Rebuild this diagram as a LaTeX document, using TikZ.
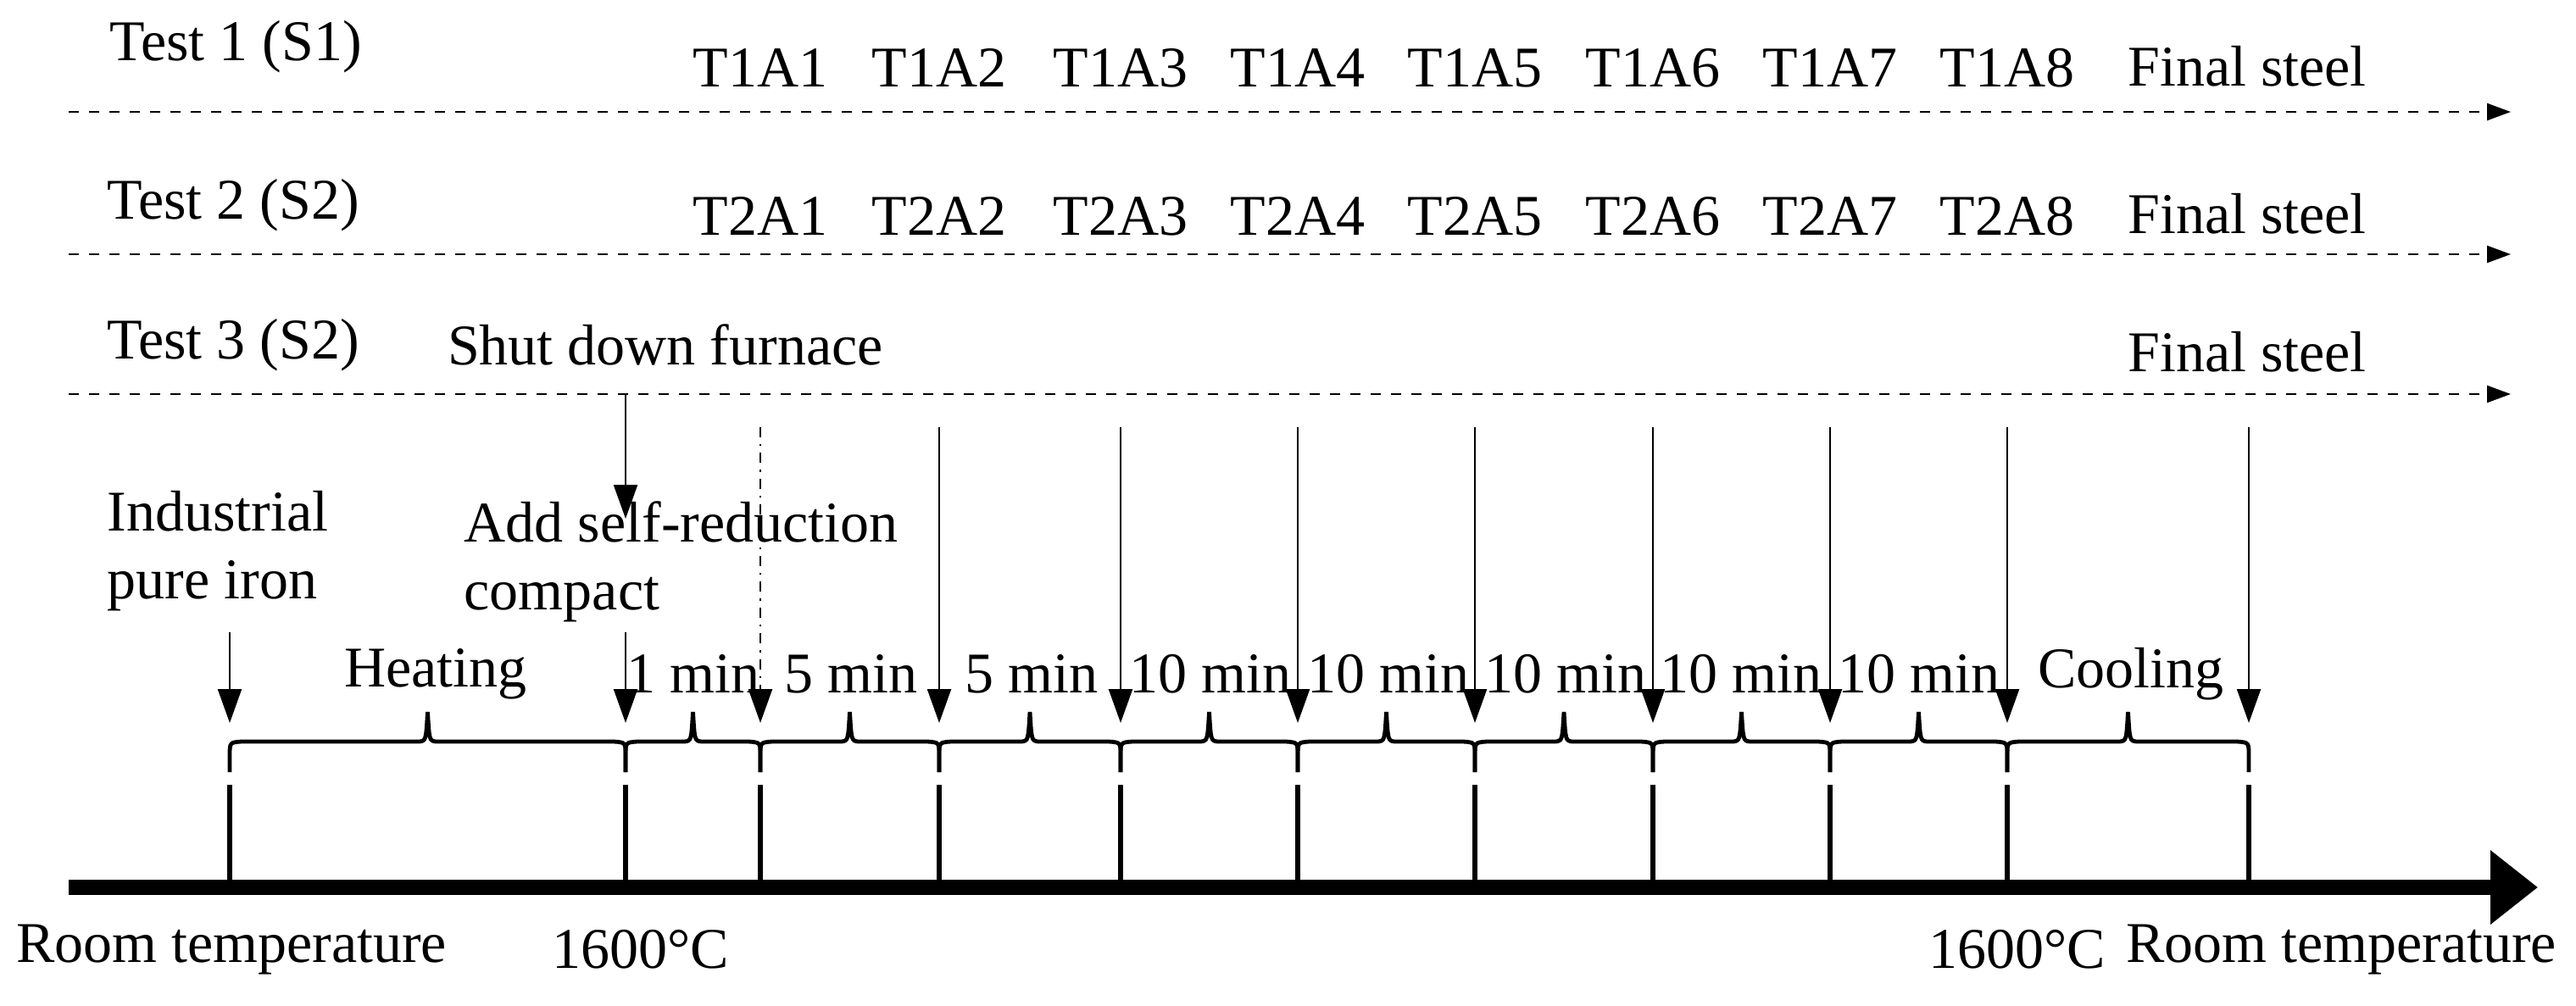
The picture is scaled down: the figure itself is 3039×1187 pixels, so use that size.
\documentclass[tikz,border=0pt]{standalone}
\usepackage{fontspec}
\setmainfont{Liberation Serif}
\usetikzlibrary{arrows.meta}
\begin{document}
\begin{tikzpicture}[x=0.25pt,y=-0.25pt,
  lbl/.style={font=\fontsize{17}{20}\selectfont,inner sep=0pt},
  dline/.style={dashed,line width=0.6pt,-{Triangle[length=7pt,width=5pt]}},
  darr/.style={line width=0.6pt,-{Triangle[length=10pt,width=7pt]}},
  brc/.style={line width=1.2pt},
  tk/.style={line width=1.6pt}]
\useasboundingbox (0,0) rectangle (3039,1187);
% dashed test lines
\foreach \n/\y in {1/132,2/300,3/465}{
  \coordinate (ds\n) at (81,\y); \coordinate (de\n) at (2962,\y);
  \draw[dline] (ds\n) -- (de\n);}
\node[lbl] (t1) at (278,55) {Test 1 (S1)};
\node[lbl] (t2) at (275,242) {Test 2 (S2)};
\node[lbl] (t3) at (275,407) {Test 3 (S2)};
\node[lbl] (sd) at (785,407) {Shut down furnace};
\foreach \n/\y in {1/78,2/252,3/415}{\node[lbl] (fs\n) at (2651,\y) {Final steel};}
% tick positions
\def\xs{271,738,897,1108,1322,1531,1740,1950,2159,2368,2653}
\foreach \x [count=\i] in \xs {\coordinate (p\i) at (\x,1047);}
\foreach \i/\x in {3/897,4/1108,5/1322,6/1531,7/1740,8/1950,9/2159,10/2368}{
  \pgfmathtruncatemacro\k{\i-2}
  \node[lbl] (a\k) at (\x,80) {T1A\k};
  \node[lbl] (b\k) at (\x,255) {T2A\k};}
% axis
\coordinate (ax0) at (81,1047); \coordinate (ax1) at (2994,1047);
\draw[line width=4.5pt,-{Triangle[length=14pt,width=21pt]}] (ax0) -- (ax1);
\foreach \x [count=\i] in \xs {
  \coordinate (v\i) at (\x,926); \draw[tk] (v\i) -- (p\i);
  \coordinate (h\i) at (\x,853);}
% braces
\foreach \a/\b in {271/738,738/897,897/1108,1108/1322,1322/1531,1531/1740,1740/1950,1950/2159,2159/2368,2368/2653}{
  \pgfmathsetmacro\m{(\a+\b)/2}
  \draw[brc] (\a,911) -- (\a,892) .. controls (\a,876) .. (\a+14,875) -- (\m-10,875)
    .. controls (\m-2,874) .. (\m,840) .. controls (\m+2,874) .. (\m+10,875)
    -- (\b-14,875) .. controls (\b,876) .. (\b,892) -- (\b,911);}
% arrows
\coordinate (s1) at (271,746); \coordinate (s2) at (738,746);
\draw[darr] (s1) -- (h1); \draw[darr] (s2) -- (h2);
\coordinate (s3) at (897,504);
\draw[line width=0.6pt,dash dot,-{Triangle[length=10pt,width=7pt]}] (s3) -- (h3);
\foreach \i in {4,...,11}{\path (h\i) ++(0,-349) coordinate (s\i); \draw[darr] (s\i) -- (h\i);}
\coordinate (sf) at (738,465); \coordinate (sfe) at (738,612);
\draw[darr] (sf) -- (sfe);
% labels
\node[lbl,align=left,anchor=west] (ind) at (126,650) {Industrial\\pure iron};
\node[lbl,align=left,anchor=west] (add) at (547,663) {Add self-reduction\\compact};
\foreach \x/\t/\n in {514/Heating/m1,818/1 min/m2,1004/5 min/m3,1217/5 min/m4,1428/10 min/m5,1638/10 min/m6,1847/10 min/m7,2054/10 min/m8,2264/10 min/m9,2514/Cooling/m10}
  {\node[lbl] (\n) at (\x,795) {\t};}
\node[lbl] (r1) at (273,1120) {Room temperature};
\node[lbl] (c1) at (756,1120) {1600\textdegree C};
\node[lbl] (c2) at (2380,1120) {1600\textdegree C};
\node[lbl] (r2) at (2762,1120) {Room temperature};
\end{tikzpicture}
\end{document}
